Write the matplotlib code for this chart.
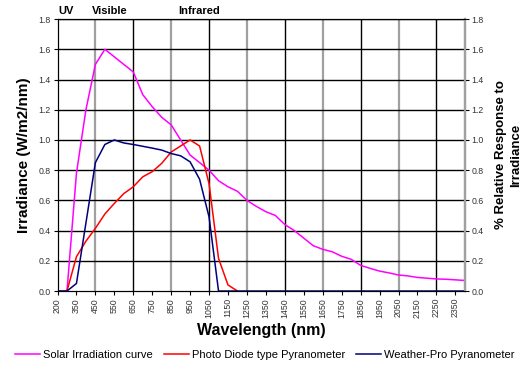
import numpy as np
import matplotlib.pyplot as plt

# wavelength categories (nm)
wavelengths = [200, 300, 350, 400, 450, 500, 550, 600, 650, 700, 750, 800, 850,
               900, 950, 1000, 1050, 1100, 1150, 1200, 1250, 1300, 1350, 1400,
               1450, 1500, 1550, 1600, 1650, 1700, 1750, 1800, 1850, 1900, 1950,
               2000, 2050, 2100, 2150, 2200, 2250, 2300, 2350, 2400]

solar = [0, 0, 0.78, 1.2, 1.5, 1.6, 1.55, 1.5, 1.45, 1.3, 1.22, 1.15, 1.1,
         1.0, 0.9, 0.85, 0.8, 0.73, 0.69, 0.66, 0.6, 0.56, 0.525, 0.5,
         0.44, 0.4, 0.35, 0.3, 0.276, 0.26, 0.23, 0.21, 0.17, 0.15, 0.132,
         0.12, 0.106, 0.1, 0.09, 0.085, 0.08, 0.078, 0.074, 0.07]

photodiode = [np.nan, 0, 0.227, 0.33, 0.415, 0.51, 0.58, 0.645, 0.69, 0.756, 0.79, 0.845, 0.92,
              0.96, 1.0, 0.96, 0.71, 0.216, 0.04, 0] + [np.nan] * 24

weatherpro = [0, 0, 0.05, 0.45, 0.85, 0.97, 1.0, 0.98, 0.97, 0.958, 0.946, 0.933, 0.91,
              0.895, 0.855, 0.74, 0.49, 0] + [0] * 26

series_names = ['Solar Irradiation curve', 'Photo Diode type Pyranometer', 'Weather-Pro Pyranometer']
y_ticks = [0.0, 0.2, 0.4, 0.6, 0.8, 1.0, 1.2, 1.4, 1.6, 1.8]

plt.rcParams['font.family'] = ['Liberation Sans', 'DejaVu Sans']

cats = [str(w) for w in wavelengths]

fig = plt.figure(figsize=(5.3, 3.67), dpi=100)
ax = fig.add_axes([0.1085, 0.207, 0.7685, 0.741])

# vertical grid lines every 200 nm, alternating grey / black
for i, w in enumerate(range(450, 2400, 200)):
    pos = wavelengths.index(w)
    ax.axvline(pos, color='#a0a0a0' if i % 2 == 0 else 'black', lw=1.0 if i % 2 else 1.6, zorder=1)
for v in y_ticks[1:]:
    ax.axhline(v, color='black', lw=1.0, zorder=1)

ax.plot(cats, solar, color='#ff00ff', lw=1.1, label=series_names[0], zorder=3)
ax.plot(cats, photodiode, color='#ff0000', lw=1.1, label=series_names[1], zorder=3)
ax.plot(cats, weatherpro, color='#000080', lw=1.1, label=series_names[2], zorder=3)

ax.set_xlim(0, len(cats) - 1)
ax.set_ylim(0, 1.8)
ax.set_xticks(range(0, len(cats), 2))
ax.set_xticklabels(cats[::2], rotation=90, fontsize=6.3, color='#333333')
ax.set_yticks(y_ticks)
ax.set_yticklabels([f'{v:.1f}' for v in y_ticks], fontsize=6.3, color='#333333')
ax.tick_params(length=3, width=0.8, pad=2)

for s in ['left', 'bottom', 'top']:
    ax.spines[s].set_color('black')
ax.spines['right'].set_color('#a0a0a0')
ax.spines['right'].set_linewidth(1.6)

ax2 = ax.twinx()
ax2.set_ylim(0, 1.8)
ax2.set_yticks(y_ticks)
ax2.set_yticklabels([f'{v:.1f}' for v in y_ticks], fontsize=6.3, color='#333333')
ax2.tick_params(length=3, width=0.8, pad=2)
ax2.spines['right'].set_color('#a0a0a0')
ax2.spines['right'].set_linewidth(1.6)

ax.set_ylabel('Irradiance (W/m2/nm)', fontsize=11, fontweight='bold', labelpad=5)
ax.set_xlabel('Wavelength (nm)', fontsize=11.5, fontweight='bold', labelpad=4)
ax2.set_ylabel('% Relative Response to\nIrradiance', fontsize=9.5, fontweight='bold',
               labelpad=8, linespacing=1.3)

ax.text(0.003, 1.012, 'UV', transform=ax.transAxes, fontsize=8, fontweight='bold', va='bottom')
ax.text(0.085, 1.012, 'Visible', transform=ax.transAxes, fontsize=8, fontweight='bold', va='bottom')
ax.text(0.296, 1.012, 'Infrared', transform=ax.transAxes, fontsize=8, fontweight='bold', va='bottom')

fig.legend(loc='center', bbox_to_anchor=(0.5, 0.033), ncol=3, frameon=False, fontsize=8,
           handlelength=2.2, handletextpad=0.3, columnspacing=1.0)

fig.savefig('out.png', dpi=100)
